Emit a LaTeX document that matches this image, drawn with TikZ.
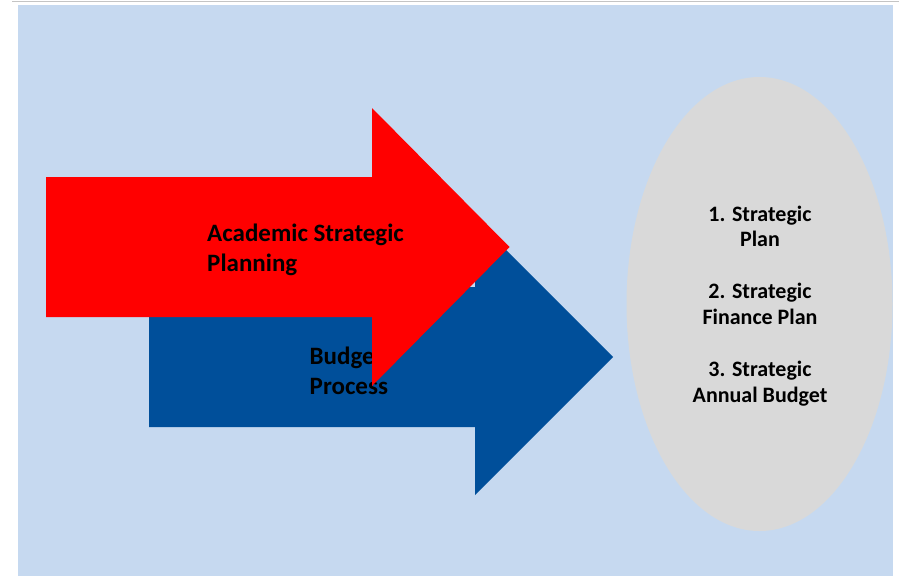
\documentclass[tikz,border=0pt]{standalone}
\usepackage{fontspec}
\setmainfont{Carlito}
\definecolor{panelblue}{HTML}{C6D9F0}
\definecolor{rulegray}{HTML}{C4C4C4}
\definecolor{budgetblue}{HTML}{004F9A}
\definecolor{planred}{HTML}{FF0000}
\definecolor{ovalgray}{HTML}{D9D9D9}
\begin{document}
\begin{tikzpicture}[x=1pt,y=-1pt,
  arrowtext/.style={font=\bfseries\fontsize{25}{29.5}\selectfont, align=left,
    anchor=base west, inner sep=0pt, text=black},
  ovaltext/.style={font=\bfseries\fontsize{22}{25.8}\selectfont, align=center,
    anchor=base, inner sep=0pt, text=black}]
\useasboundingbox (0,0) rectangle (899,576);
% panel and top rule
\fill[panelblue] (17.5,5) rectangle (893,576);
\draw[rulegray, line width=1.3pt] (12,1.5) -- (899,1.5);
% budget arrow
\fill[budgetblue] (149,287) -- (475,287) -- (475,219) -- (613,357)
  -- (475,495) -- (475,427) -- (149,427) -- cycle;
% the anchor sits on the baseline of the last line
\node[arrowtext] (budget) at (309.5,394) {Budget\\Process};
% planning arrow
\fill[planred] (46,177) -- (372,177) -- (372,108) -- (509.5,247)
  -- (372,386) -- (372,317) -- (46,317) -- cycle;
\node[arrowtext] (planning) at (207,271) {Academic Strategic\\Planning};
% outcomes oval
\fill[ovalgray] (759.5,304) ellipse [x radius=133, y radius=227];
\node[ovaltext] (outcomes) at (760,402) {1. Strategic\\Plan\\[26pt]2. Strategic\\Finance Plan\\[26pt]3. Strategic\\Annual Budget};
\end{tikzpicture}
\end{document}
